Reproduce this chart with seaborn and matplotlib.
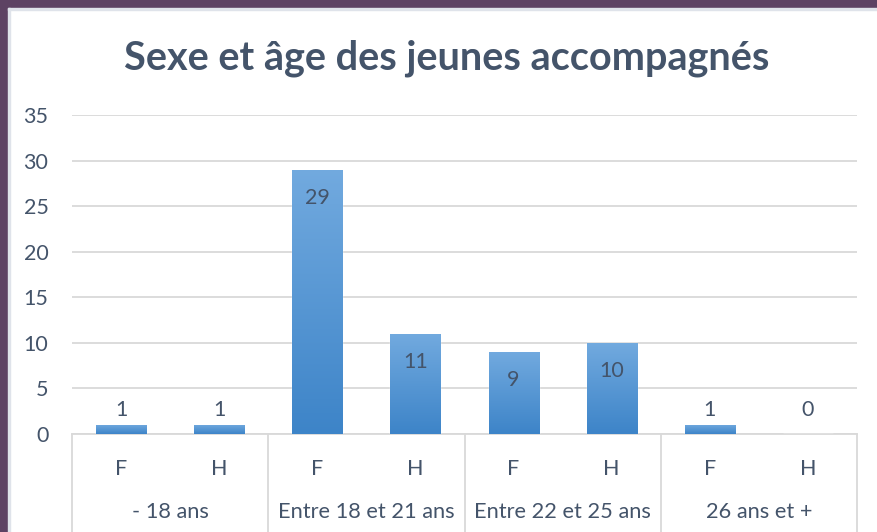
import numpy as np
import pandas as pd
import matplotlib
matplotlib.use("Agg")
import matplotlib.pyplot as plt
import seaborn as sns
from matplotlib.patches import Rectangle
import matplotlib.transforms as mtransforms

groups = ["- 18 ans", "Entre 18 et 21 ans", "Entre 22 et 25 ans", "26 ans et +"]
sexes = ["F", "H"]
values = [1, 1, 29, 11, 9, 10, 1, 0]
title = "Sexe et âge des jeunes accompagnés"
yticks = [0, 5, 10, 15, 20, 25, 30, 35]

keys = [f"{g}|{s}" for g in groups for s in sexes]
df = pd.DataFrame({"key": keys, "value": values})

sns.set_theme(style="white")
plt.rcParams['font.family'] = ['Lato', 'DejaVu Sans']
txt = "#44546a"
grid_c = "#d9d9d9"

fig = plt.figure(figsize=(8.77, 5.32), dpi=100)
fig.patch.set_facecolor("white")
# purple frame
purple = "#5d4263"
fig.patches.append(Rectangle((0, 0), 8/877, 1, transform=fig.transFigure, color=purple, zorder=0))
fig.patches.append(Rectangle((0, 1-8/532), 1, 8/532, transform=fig.transFigure, color=purple, zorder=0))
fig.patches.append(Rectangle((8/877, 0), 1.5/877, 1-8/532, transform=fig.transFigure, color="#dfe3ea", zorder=0))
fig.patches.append(Rectangle((8/877, 1-10/532), 1-8/877, 2/532, transform=fig.transFigure, color="#dfe3ea", zorder=0))

ax = fig.add_axes([72/877, 1-434/532, (857-72)/877, 319/532])
sns.barplot(data=df, x="key", y="value", order=keys, color="#5b9bd5", width=0.51,
            ax=ax, zorder=3)
ax.set_ylim(0, 35)
ax.set_xlim(-0.5, 7.5)
ax.set_yticks(yticks)
ax.set_yticklabels([str(t) for t in yticks], color=txt, fontsize=15.5)
ax.set_xticks(range(8))
ax.set_xticklabels([k.split("|")[1] for k in keys], color=txt, fontsize=15.5)
ax.tick_params(axis="x", length=0, pad=18)
ax.tick_params(axis="y", length=0, pad=17)
for s in ["top", "right", "left"]:
    ax.spines[s].set_visible(False)
ax.spines["bottom"].set_color(grid_c)
ax.spines["bottom"].set_linewidth(1.3)
ax.yaxis.grid(True, color=grid_c, linewidth=1.3, zorder=0)
ax.set_axisbelow(True)
ax.set_xlabel("")
ax.set_ylabel("")

# gradient fill
grad = np.linspace(0, 1, 256).reshape(-1, 1)
cmap = matplotlib.colors.LinearSegmentedColormap.from_list("g", ["#3d84c8", "#72aadf"])
for p in ax.patches:
    x0, w, h = p.get_x(), p.get_width(), p.get_height()
    if h <= 0:
        continue
    im = ax.imshow(grad, extent=[x0, x0 + w, 0, h], origin="lower", cmap=cmap,
                   aspect="auto", zorder=4)
    im.set_clip_path(p)
ax.set_xlim(-0.5, 7.5)
ax.set_ylim(0, 35)

# value labels
for i, v in enumerate(values):
    if v >= 5:
        ax.annotate(str(v), (i, v), xytext=(0, -34), textcoords="offset pixels",
                    ha="center", va="baseline", color=txt, fontsize=15.5, zorder=6)
    else:
        ax.annotate(str(v), (i, max(v, 1)), xytext=(0, 9), textcoords="offset pixels",
                    ha="center", va="baseline", color=txt, fontsize=15.5, zorder=6)

# group separators and labels
trans = mtransforms.blended_transform_factory(ax.transData, ax.transAxes)
for b in [-0.5, 1.5, 3.5, 5.5, 7.5]:
    ax.plot([b, b], [0, -0.32], transform=trans, color=grid_c, lw=1.3, clip_on=False)
for gi, g in enumerate(groups):
    ax.text(gi * 2 + 0.5, -0.245, g, transform=trans, ha="center", va="center",
            color=txt, fontsize=15.7)

fig.text(447/877, 1-58/532, title, ha="center", va="center", color=txt,
         fontsize=28.5, fontweight="bold")

fig.savefig("out.png", dpi=100)
